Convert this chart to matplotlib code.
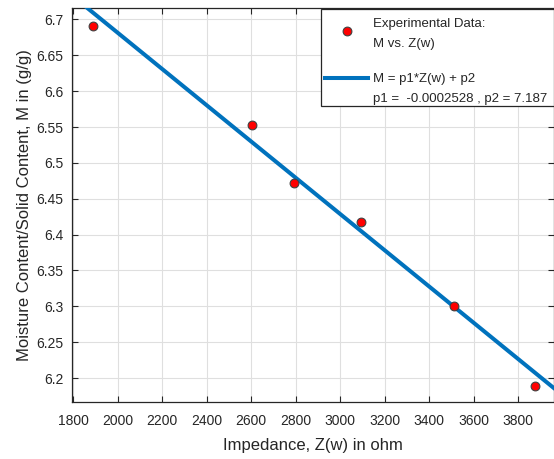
import numpy as np
import matplotlib
matplotlib.use("Agg")
import matplotlib.pyplot as plt
from matplotlib.legend_handler import HandlerLine2D
from matplotlib.patches import Rectangle

plt.rcParams['font.family'] = ['Liberation Sans', 'DejaVu Sans']

# measured impedance vs moisture/solid ratio
impedance = [1887, 2604, 2792, 3093, 3513, 3875]
moisture = [6.691, 6.553, 6.472, 6.417, 6.300, 6.189]

# linear fit coefficients
p1 = -0.0002528
p2 = 7.187

xticks = list(range(1800, 3801, 200))
yticks = [6.2, 6.25, 6.3, 6.35, 6.4, 6.45, 6.5, 6.55, 6.6, 6.65, 6.7]
xlim = (1793, 3958)
ylim = (6.167, 6.7155)

txt = '#262626'
blue = '#0072BD'


class ShiftedHandler(HandlerLine2D):
    # move the legend handle up/down by a fraction of the font size
    def __init__(self, shift, **kw):
        super().__init__(**kw)
        self.shift = shift

    def create_artists(self, legend, orig_handle, xdescent, ydescent,
                       width, height, fontsize, trans):
        arts = super().create_artists(legend, orig_handle, xdescent, ydescent,
                                      width, height, fontsize, trans)
        for a in arts:
            a.set_ydata(np.asarray(a.get_ydata()) + self.shift * fontsize)
        return arts


fig = plt.figure(figsize=(5.54, 4.59), dpi=100)
ax = fig.add_axes([0.1294, 0.1248, 0.8697, 0.857])

zz = np.linspace(xlim[0], xlim[1], 50)
pts, = ax.plot(impedance, moisture, 'o', ms=6.3, mfc='#FF0000', mec='#404040', mew=0.8,
               label='Experimental Data:\nM vs. Z(w)', zorder=4)
fit, = ax.plot(zz, p1 * zz + p2, '-', color=blue, lw=2.9,
               label='M = p1*Z(w) + p2\np1 =  %.7f , p2 = %.3f' % (p1, p2), zorder=3)

ax.set_xlim(*xlim)
ax.set_ylim(*ylim)
ax.set_xticks(xticks)
ax.set_yticks(yticks)
ax.set_yticklabels(['%g' % v for v in yticks])
ax.grid(True, color='#dfdfdf', lw=0.8)
ax.set_axisbelow(True)
ax.tick_params(direction='in', length=4, width=0.8, top=True, right=True,
               labelsize=10, colors=txt, labelcolor=txt)
ax.tick_params(axis='x', pad=9)
ax.tick_params(axis='y', pad=6)
for s in ax.spines.values():
    s.set_color(txt)
    s.set_linewidth(0.9)

ax.set_xlabel('Impedance, Z(w) in ohm', fontsize=12, color=txt, labelpad=7)
ax.set_ylabel('Moisture Content/Solid Content, M in (g/g)', fontsize=12, color=txt, labelpad=3)

# legend box drawn on its own so the entries can sit lower inside it
box = Rectangle((0.5168, 0.7517), 0.4832, 0.2458, transform=ax.transAxes,
                facecolor='white', edgecolor=txt, lw=0.9, zorder=5)
ax.add_patch(box)

leg = ax.legend(handles=[pts, fit], loc='upper right', bbox_to_anchor=(1.0, 0.9924),
                fontsize=9.5, frameon=False,
                handlelength=3.2, handletextpad=0.38, labelspacing=1.73,
                borderpad=0.5, borderaxespad=0,
                handler_map={pts: ShiftedHandler(0.22), fit: ShiftedHandler(0.85)})
leg.set_zorder(6)
for t in leg.get_texts():
    t.set_linespacing(1.9)
    t.set_color(txt)

fig.savefig('out.png', dpi=100)
